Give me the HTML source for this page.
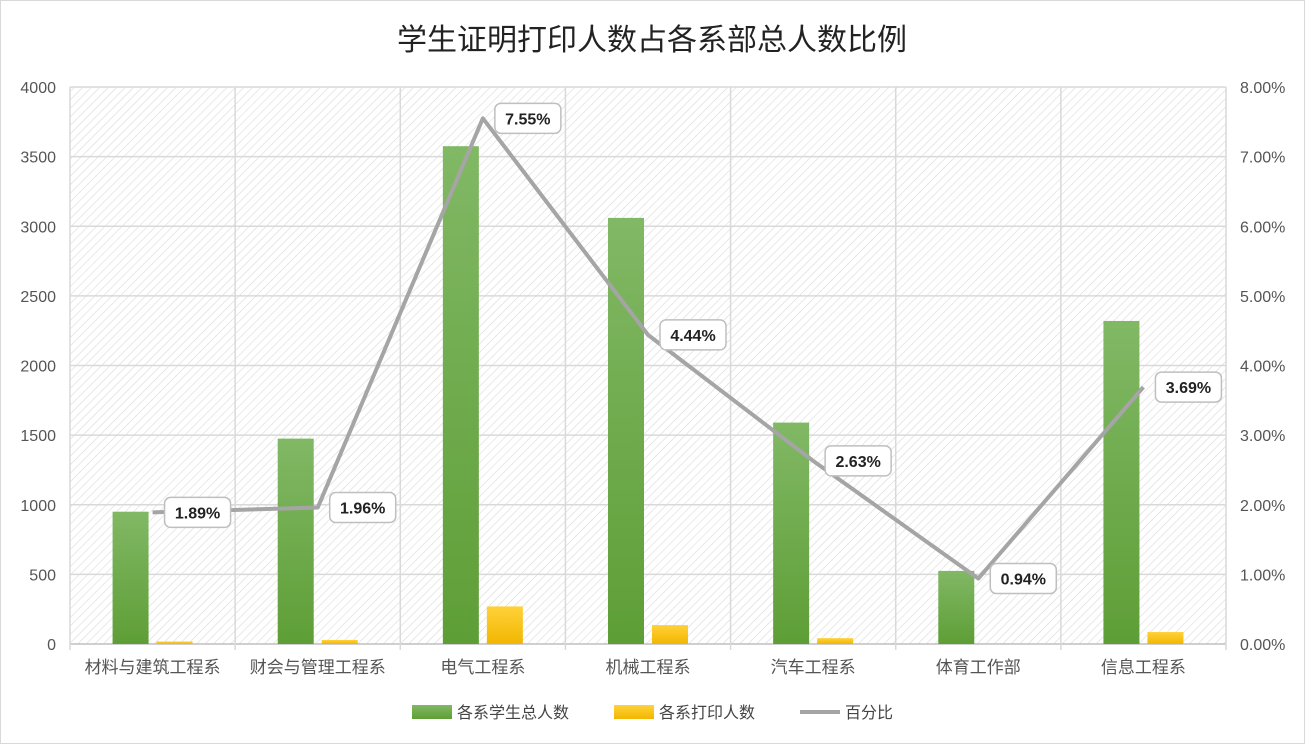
<!DOCTYPE html>
<html><head><meta charset="utf-8"><style>
body{margin:0;background:#fff;font-family:"Liberation Sans","Noto Sans CJK SC",sans-serif;}
svg text{font-family:"Liberation Sans","Noto Sans CJK SC",sans-serif;}
</style></head><body>
<svg id="c" width="1305" height="744" viewBox="0 0 1305 744">
<defs>
<pattern id="hatch" width="6" height="6" patternUnits="userSpaceOnUse" patternTransform="rotate(45)">
<line x1="0" y1="0" x2="0" y2="6" stroke="#d9d9d9" stroke-width="1.2"/>
</pattern>
<linearGradient id="gG" x1="0" y1="0" x2="0" y2="1"><stop offset="0" stop-color="#81b865"/><stop offset="1" stop-color="#5e9e36"/></linearGradient>
<linearGradient id="gY" x1="0" y1="0" x2="0" y2="1"><stop offset="0" stop-color="#ffd23a"/><stop offset="1" stop-color="#f2b600"/></linearGradient>
</defs>
<rect x="0.5" y="0.5" width="1304" height="743" fill="#fff" stroke="#d9d9d9"/>
<text x="652" y="50" text-anchor="middle" font-size="30" fill="#222">学生证明打印人数占各系部总人数比例</text>
<rect x="70" y="87" width="1156" height="557" fill="url(#hatch)"/>
<g id="grid"></g><g id="bars"></g><g id="line"></g><g id="labels"></g><g id="axes"></g>
<g>
<rect x="412" y="705" width="40" height="14" fill="url(#gG)"/>
<text x="457" y="718" font-size="16" fill="#444">各系学生总人数</text>
<rect x="614" y="705" width="40" height="14" fill="url(#gY)"/>
<text x="659" y="718" font-size="16" fill="#444">各系打印人数</text>
<line x1="800" y1="712" x2="840" y2="712" stroke="#a5a5a5" stroke-width="4"/>
<text x="845" y="718" font-size="16" fill="#444">百分比</text>
</g>
</svg>
<script>
const categories=["材料与建筑工程系","财会与管理工程系","电气工程系","机械工程系","汽车工程系","体育工作部","信息工程系"];
const totals=[950,1475,3575,3060,1590,525,2320];
const prints=[18,29,270,136,42,5,86];
const percents=[1.89,1.96,7.55,4.44,2.63,0.94,3.69];
const leftTicks=[0,500,1000,1500,2000,2500,3000,3500,4000];
const rightTicks=["0.00%","1.00%","2.00%","3.00%","4.00%","5.00%","6.00%","7.00%","8.00%"];
const NS="http://www.w3.org/2000/svg";
const X0=70,X1=1226,Y0=644,Y1=87;
const band=(X1-X0)/categories.length;
const xc=i=>X0+band*(i+0.5);
const yL=v=>Y0-(v/4000)*(Y0-Y1);
const yR=p=>Y0-(p/8)*(Y0-Y1);
function mk(tag,attrs,parent){const e=document.createElementNS(NS,tag);for(const k in attrs)e.setAttribute(k,attrs[k]);document.getElementById(parent).appendChild(e);return e;}
leftTicks.forEach((t,i)=>{
 const y=yL(t);
 const g=mk("line",{x1:X0,x2:X1,y1:y,y2:y,stroke:i===0?"#bfbfbf":"#d9d9d9","stroke-width":1.5},"grid");
 
 
 const l=mk("text",{x:56,y:y+6,"text-anchor":"end","font-size":16,fill:"#555"},"axes");l.textContent=t;
 
 
 const r=mk("text",{x:1240,y:y+6,"font-size":16,fill:"#555"},"axes");r.textContent=rightTicks[i];
 
 
});
for(let i=0;i<=categories.length;i++){
 const x=X0+band*i;
 const v=mk("line",{x1:x,x2:x,y1:Y1,y2:Y0+6,stroke:"#d9d9d9","stroke-width":1.5},"grid");
 
 
}
categories.forEach((c,i)=>{
 const x=xc(i);
 const b=mk("rect",{x:x-40,y:yL(totals[i]),width:36,height:Y0-yL(totals[i]),fill:"url(#gG)"},"bars");
 
 
 const p=mk("rect",{x:x+4,y:yL(prints[i]),width:36,height:Y0-yL(prints[i]),fill:"url(#gY)"},"bars");
 
 
 const t=mk("text",{x:x,y:673,"text-anchor":"middle","font-size":17,fill:"#555"},"axes");t.textContent=c;
 
 
 const px=x,py=yR(percents[i]);
 const bx=mk("rect",{x:px+12,y:py-15,width:66,height:30,rx:6,fill:"#fff",stroke:"#bfbfbf","stroke-width":1.5},"labels");
 
 
 const lt=mk("text",{x:px+45,y:py+6,"text-anchor":"middle","font-size":16,"font-weight":"bold",fill:"#222"},"labels");lt.textContent=percents[i].toFixed(2)+"%";
 
 
});
const pl=mk("polyline",{points:percents.map((p,i)=>xc(i)+","+yR(p)).join(" "),fill:"none",stroke:"#a5a5a5","stroke-width":4,"stroke-linejoin":"round"},"line");


</script>
</body></html>
